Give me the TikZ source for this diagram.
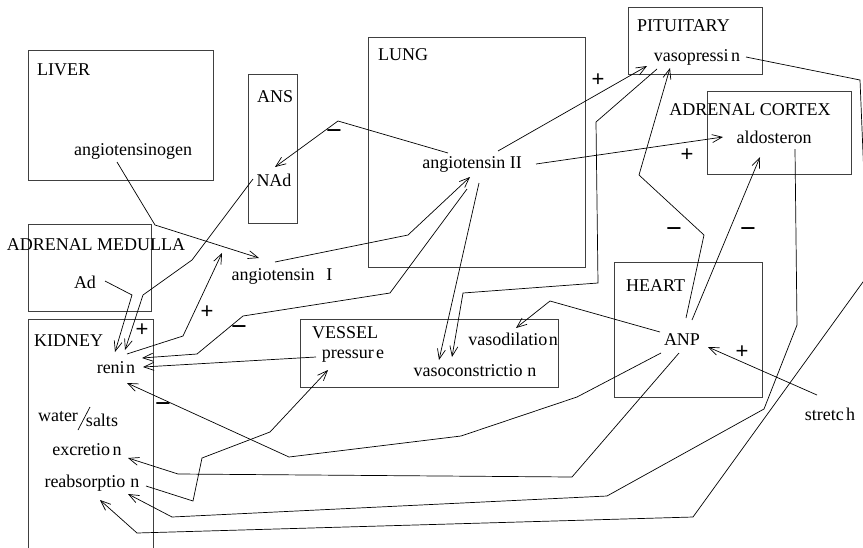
\documentclass[tikz,border=0pt]{standalone}
\usepackage{fontspec}
\setmainfont{Liberation Serif}
\newfontfamily\signfont{Liberation Sans}
\usetikzlibrary{arrows.meta}
\begin{document}
\begin{tikzpicture}[x=1pt,y=-1pt,
  box/.style={draw=black!75, line width=0.9pt, inner sep=0pt, anchor=north west},
  lbl/.style={inner sep=0pt, font=\fontsize{18}{20}\selectfont},
  sgn/.style={inner sep=0pt, font=\signfont\fontsize{22}{24}\selectfont},
  msgn/.style={inner sep=0pt, font=\signfont\fontsize{27}{28}\selectfont},
  conn/.style={line width=0.7pt, -{Straight Barb[length=10pt,width=8pt]}},
  plainln/.style={line width=0.7pt},
]
\useasboundingbox (0,0) rectangle (863,547);
\fill[white] (0,0) rectangle (863,547);

% boxes
\node[box, minimum width=185pt, minimum height=130pt] (liverbox) at (28,50) {};
\node[box, minimum width=49pt, minimum height=149pt] (ansbox) at (248,74) {};
\node[box, minimum width=217pt, minimum height=230pt] (lungbox) at (368,37) {};
\node[box, minimum width=134pt, minimum height=67pt] (pitbox) at (628,7) {};
\node[box, minimum width=144pt, minimum height=83pt] (cortbox) at (707,91) {};
\node[box, minimum width=123pt, minimum height=87pt] (medbox) at (28,224) {};
\node[box, minimum width=125pt, minimum height=240pt] (kidbox) at (28,319) {};
\node[box, minimum width=258pt, minimum height=68pt] (vesbox) at (300,319) {};
\node[box, minimum width=148pt, minimum height=135pt] (heartbox) at (614,262) {};

% titles
\node[lbl, anchor=west] (tliver) at (37,70) {LIVER};
\node[lbl, anchor=west] (tans) at (257,97) {ANS};
\node[lbl, anchor=west] (tlung) at (378,55) {LUNG};
\node[lbl, anchor=west] (tpit) at (637,26) {PITUITARY};
\node[lbl] (tcort) at (750,110) {ADRENAL CORTEX};
\node[lbl] (tmed) at (96,245) {ADRENAL MEDULLA};
\node[lbl, anchor=west] (tkid) at (34,341) {KIDNEY};
\node[lbl, anchor=west] (tves) at (312,333) {VESSEL};
\node[lbl, anchor=west] (theart) at (626,286) {HEART};

% substances
\node[lbl] (agen) at (133,151) {angiotensinogen};
\node[lbl] (nad) at (274,180) {NAd};
\node[lbl] (ang2) at (472,164) {angiotensin II};
\node[lbl] (vaso) at (697,57) {vasopressi\hspace{2.5pt}n};
\node[lbl] (aldo) at (774,137) {aldosteron};
\node[lbl] (ad) at (85,282) {Ad};
\node[lbl] (ang1) at (282,276) {angiotensin\hspace{12pt}I};
\node[lbl] (renin) at (116,368) {reni\hspace{1.5pt}n};
\node[lbl] (water) at (58,417) {water};
\node[lbl] (salts) at (102,420) {salts};
\node[lbl] (excr) at (87,450) {excretio\hspace{2.5pt}n};
\node[lbl] (reabs) at (92,483) {reabsorptio\hspace{5pt}n};
\node[lbl] (press) at (353,356) {pressur\hspace{2.5pt}e};
\node[lbl] (vdil) at (513,339) {vasodilatio\hspace{1.5pt}n};
\node[lbl] (vcon) at (475,371) {vasoconstrictio\hspace{5pt}n};
\node[lbl] (anp) at (682,340) {ANP};
\node[lbl] (stretch) at (830,414) {stretc\hspace{2.5pt}h};

% slash between water and salts
\coordinate (sl1) at (78,430);
\coordinate (sl2) at (90,407);
\draw[plainln] (sl1) -- (sl2);

% signs
\node[msgn] (s1) at (334,135) {−};
\node[sgn] (s2) at (598,80) {+};
\node[sgn] (s3) at (687,155) {+};
\node[sgn] (s4) at (142,330) {+};
\node[sgn] (s5) at (207,312) {+};
\node[msgn] (s6) at (239,331) {−};
\node[msgn] (s7) at (163,408) {−};
\node[msgn] (s8) at (674,233) {−};
\node[msgn] (s9) at (748,233) {−};
\node[sgn] (s10) at (742,352) {+};

% connector end points
\coordinate (agen-o) at (117,162);
\coordinate (ang1-i) at (259,258);
\coordinate (ang1-o) at (275,262);
\coordinate (ang2-i) at (470,177);
\coordinate (ang2-o1) at (448,153);
\coordinate (nad-i) at (275,167);
\coordinate (ang2-o2) at (498,151);
\coordinate (vaso-i1) at (647,66);
\coordinate (ang2-o3) at (536,164);
\coordinate (aldo-i1) at (723,137);
\coordinate (ang2-o4) at (467,189);
\coordinate (renin-i1) at (142,358);
\coordinate (ang2-o5) at (479,183);
\coordinate (vcon-i1) at (439,360);
\coordinate (vaso-o1) at (657,69);
\coordinate (vcon-i2) at (452,357);
\coordinate (vaso-o2) at (746,57);
\coordinate (reabs-i1) at (100,500);
\coordinate (aldo-o) at (795,149);
\coordinate (reabs-i2) at (128,494);
\coordinate (anp-o1) at (686,318);
\coordinate (vaso-i2) at (670,68);
\coordinate (anp-o2) at (692,320);
\coordinate (aldo-i2) at (760,157);
\coordinate (anp-o3) at (660,332);
\coordinate (vdil-i) at (516,328);
\coordinate (anp-o4) at (661,353);
\coordinate (renin-i2) at (127,383);
\coordinate (anp-o5) at (679,353);
\coordinate (excr-i) at (128,458);
\coordinate (stretch-o) at (817,395);
\coordinate (anp-i) at (708,347);
\coordinate (nad-o) at (253,179);
\coordinate (renin-i3) at (125,350);
\coordinate (ad-o) at (105,281);
\coordinate (renin-i4) at (115,352);
\coordinate (renin-o) at (127,354);
\coordinate (ang1-i2) at (222,253);
\coordinate (press-o) at (316,357);
\coordinate (renin-i5) at (143,367);
\coordinate (reabs-o) at (146,486);
\coordinate (press-i) at (328,370);

% connectors
\draw[conn] (agen-o) -- (155,225) -- (ang1-i);
\draw[conn] (ang1-o) -- (408,235) -- (ang2-i);
\draw[conn] (ang2-o1) -- (338,121) -- (nad-i);
\draw[conn] (ang2-o2) -- (vaso-i1);
\draw[conn] (ang2-o3) -- (aldo-i1);
\draw[conn] (ang2-o4) -- (390,293) -- (243,316) -- (197,354) -- (renin-i1);
\draw[conn] (ang2-o5) -- (vcon-i1);
\draw[conn] (vaso-o1) -- (596,122) -- (598,283) -- (463,293) -- (vcon-i2);
\draw[conn] (vaso-o2) -- (860,80) -- (868,275) -- (693,517) -- (137,533) -- (reabs-i1);
\draw[conn] (aldo-o) -- (797,325) -- (764,409) -- (607,496) -- (172,517) -- (reabs-i2);
\draw[conn] (anp-o1) -- (704,235) -- (639,175) -- (vaso-i2);
\draw[conn] (anp-o2) -- (aldo-i2);
\draw[conn] (anp-o3) -- (550,301) -- (vdil-i);
\draw[conn] (anp-o4) -- (577,397) -- (461,436) -- (289,457) -- (renin-i2);
\draw[conn] (anp-o5) -- (572,477) -- (178,474) -- (excr-i);
\draw[conn] (stretch-o) -- (anp-i);
\draw[conn] (nad-o) -- (192,260) -- (143,295) -- (renin-i3);
\draw[conn] (ad-o) -- (132,295) -- (renin-i4);
\draw[conn] (renin-o) -- (183,336) -- (ang1-i2);
\draw[conn] (press-o) -- (renin-i5);
\draw[conn] (reabs-o) -- (193,501) -- (202,458) -- (270,432) -- (press-i);
\end{tikzpicture}
\end{document}
